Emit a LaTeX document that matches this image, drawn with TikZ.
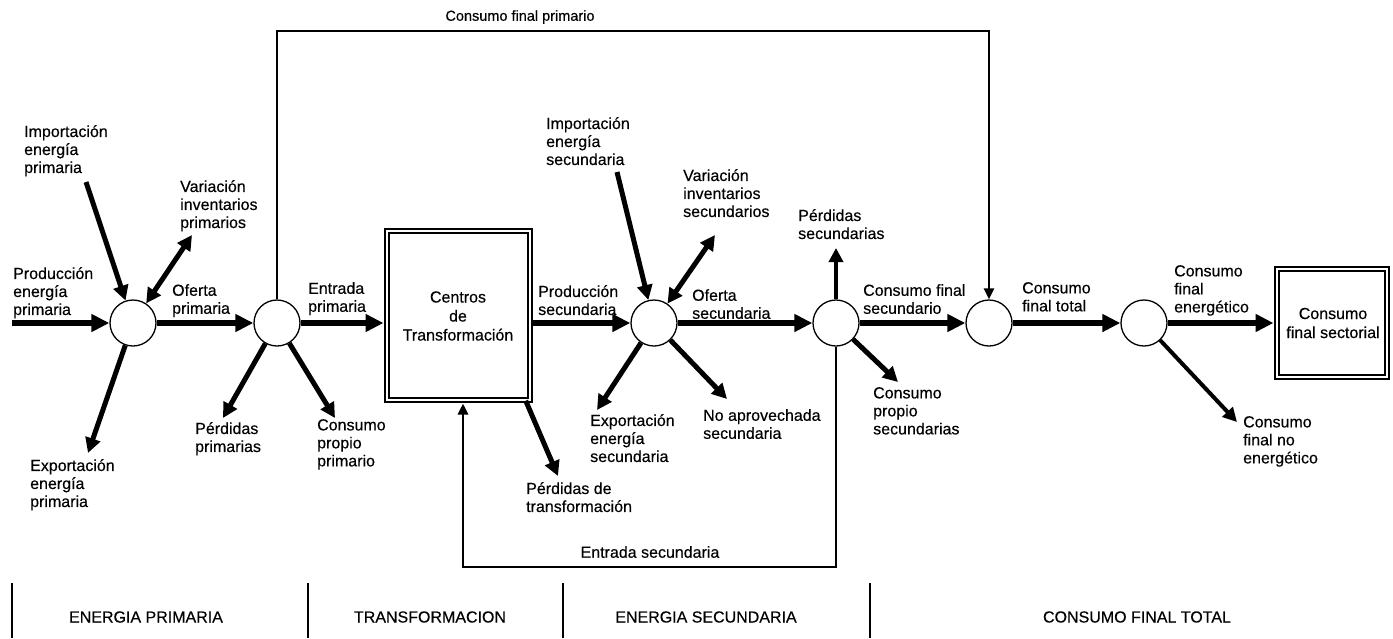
\documentclass[tikz,border=0pt]{standalone}
\usepackage{fontspec}
\setmainfont{Liberation Sans}[FakeBold=0.35]
\usetikzlibrary{arrows.meta}
\begin{document}
\begin{tikzpicture}[x=1pt,y=-1pt,
  lbl/.style={font=\fontsize{16}{18}\selectfont, align=left, anchor=north west, inner sep=0pt, execute at begin node=\strut},
  clbl/.style={font=\fontsize{16}{19}\selectfont, align=center, inner sep=0pt},
  hdr/.style={font=\fontsize{14.5}{17}\selectfont, inner sep=0pt},
  bhdr/.style={font=\fontsize{16}{18}\selectfont, inner sep=0pt},
  circ/.style={circle, draw, line width=1.3pt, minimum size=46pt, inner sep=0pt},
  dbox/.style={draw, line width=1.4pt, double=white, double distance=2.6pt, inner sep=0pt},
  big/.style={line width=6pt, -{Triangle[length=18pt,width=17pt]}},
  mid/.style={line width=5pt, -{Triangle[length=15pt,width=15pt]}},
  bimid/.style={line width=5pt, {Triangle[length=15pt,width=15pt]}-{Triangle[length=15pt,width=15pt]}},
  slim/.style={line width=4pt, -{Triangle[length=14pt,width=14pt]}},
  thinarrow/.style={line width=2.3pt, line join=miter, -{Triangle[length=11pt,width=10pt]}},
  sep/.style={line width=1.2pt}
]
\useasboundingbox (0,0) rectangle (1393,638);

% circles
\node[circ] (c1) at (133,323) {};
\node[circ] (c2) at (277,323) {};
\node[circ] (c3) at (654,323) {};
\node[circ] (c4) at (836,323) {};
\node[circ] (c5) at (989,323) {};
\node[circ] (c6) at (1144,323) {};

% boxes
\node[dbox, minimum width=143pt, minimum height=169pt] (box1) at (458.5,315.5) {};
\node[clbl] (tbox1) at (458,316) {Centros\\de\\Transformación};
\node[dbox, minimum width=110pt, minimum height=108pt] (box2) at (1332,323) {};
\node[clbl] (tbox2) at (1333,323) {Consumo\\final sectorial};

% free ends
\coordinate (pp1) at (12,323);
\coordinate (ip1) at (86,182);
\coordinate (vp1) at (192,235);
\coordinate (ex1) at (88,453);
\coordinate (lp1) at (223,418);
\coordinate (cp1) at (335,418);
\coordinate (is2) at (617,172);
\coordinate (vs2) at (715,235);
\coordinate (ex2) at (597,410);
\coordinate (na2) at (727,399);
\coordinate (pt) at (558,476);
\coordinate (ps2) at (836,248);
\coordinate (cs2) at (898,382);
\coordinate (ne) at (1237,422);
\coordinate (tr) at (989,31);
\coordinate (bl) at (463,567);

% primary
\draw[big] (pp1) -- (c1);
\draw[mid] (ip1) -- (c1);
\draw[bimid] (c1) -- (vp1);
\draw[mid] (c1) -- (ex1);
\draw[big] (c1) -- (c2);
\draw[big, shorten >=2.8pt] (c2) -- (box1.west |- c2);
\draw[mid] (c2) -- (lp1);
\draw[mid] (c2) -- (cp1);

% transformation
\draw[mid] ([xshift=-5pt]box1.south east) -- (pt);
\draw[big] ([xshift=2pt]box1.east |- c3) -- (c3);

% secondary
\draw[mid] (is2) -- (c3);
\draw[bimid] (c3) -- (vs2);
\draw[mid] (c3) -- (ex2);
\draw[mid] (c3) -- (na2);
\draw[big] (c3) -- (c4);
\draw[slim] (c4) -- (ps2);
\draw[mid] (c4) -- (cs2);
\draw[big] (c4) -- (c5);

% final
\draw[big] (c5) -- (c6);
\draw[big, shorten >=2.8pt] (c6) -- (box2);
\draw[slim] (c6) -- (ne);

% loops
\draw[thinarrow] (c2.north) |- (tr) -- (c5.north);
\draw[thinarrow, line width=2.8pt, shorten >=2.8pt] (c4.south) |- (bl) -- (bl |- box1.south);

% labels
\node[lbl] (l1) at (24,125) {Importación\\energía\\primaria};
\node[lbl] (l2) at (180,180) {Variación\\inventarios\\primarios};
\node[lbl] (l3) at (13,267) {Producción\\energía\\primaria};
\node[lbl] (l4) at (172,284) {Oferta\\primaria};
\node[lbl] (l5) at (30,459) {Exportación\\energía\\primaria};
\node[lbl] (l6) at (308,282) {Entrada\\primaria};
\node[lbl] (l7) at (195,422) {Pérdidas\\primarias};
\node[lbl] (l8) at (317,419) {Consumo\\propio\\primario};
\node[lbl] (l9) at (538,285) {Producción\\secundaria};
\node[lbl] (l10) at (546,117) {Importación\\energía\\secundaria};
\node[lbl] (l11) at (683,169) {Variación\\inventarios\\secundarios};
\node[lbl] (l12) at (692,289) {Oferta\\secundaria};
\node[lbl] (l13) at (590,414) {Exportación\\energía\\secundaria};
\node[lbl] (l14) at (703,409) {No aprovechada\\secundaria};
\node[lbl] (l15) at (526,482) {Pérdidas de\\transformación};
\node[clbl] (l16) at (650,552) {Entrada secundaria};
\node[lbl] (l17) at (798,209) {Pérdidas\\secundarias};
\node[lbl] (l18) at (863,284) {Consumo final\\secundario};
\node[lbl] (l19) at (873,387) {Consumo\\propio\\secundarias};
\node[lbl] (l20) at (1022,282) {Consumo\\final total};
\node[lbl] (l21) at (1174,265) {Consumo\\final\\energético};
\node[lbl] (l22) at (1243,416) {Consumo\\final no\\energético};
\node[hdr] (l23) at (520,17) {Consumo final primario};

% bottom section bar
\draw[sep] (12,583) -- (12,638);
\draw[sep] (308,583) -- (308,638);
\draw[sep] (563,583) -- (563,638);
\draw[sep] (870,583) -- (870,638);
\node[bhdr] (h1) at (146,617) {ENERGIA PRIMARIA};
\node[bhdr] (h2) at (430,617) {TRANSFORMACION};
\node[bhdr] (h3) at (706,617) {ENERGIA SECUNDARIA};
\node[bhdr] (h4) at (1137,617) {CONSUMO FINAL TOTAL};
\end{tikzpicture}
\end{document}
